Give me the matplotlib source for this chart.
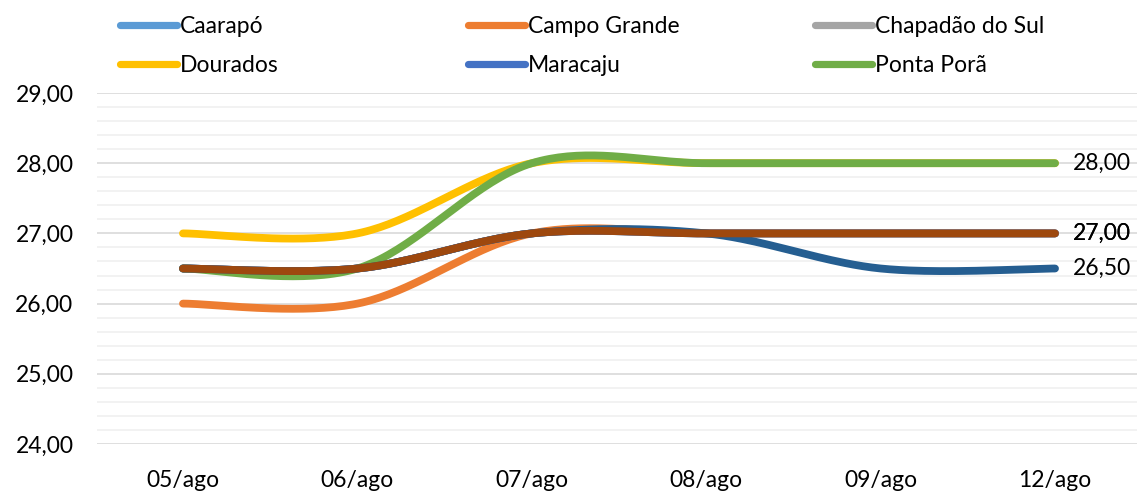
import matplotlib.pyplot as plt
import numpy as np
from matplotlib.ticker import FuncFormatter, MultipleLocator

# data
dates = ["05/ago", "06/ago", "07/ago", "08/ago", "09/ago", "12/ago"]
caarapo = [26.5, 26.5, 27.0, 27.0, 27.0, 27.0]
campo_grande = [26.0, 26.0, 27.0, 27.0, 27.0, 27.0]
chapadao = [26.5, 26.5, 27.0, 27.0, 27.0, 27.0]
dourados = [27.0, 27.0, 28.0, 28.0, 28.0, 28.0]
maracaju = [26.5, 26.5, 27.0, 27.0, 27.0, 27.0]
ponta_pora = [26.5, 26.5, 28.0, 28.0, 28.0, 28.0]
serie7 = [26.5, 26.5, 27.0, 27.0, 26.5, 26.5]
serie8 = [26.5, 26.5, 27.0, 27.0, 27.0, 27.0]

series = [
    ("Caarapó", caarapo, "#5B9BD5", True, False),
    ("Campo Grande", campo_grande, "#ED7D31", True, True),
    ("Chapadão do Sul", chapadao, "#A5A5A5", True, False),
    ("Dourados", dourados, "#FFC000", True, False),
    ("Maracaju", maracaju, "#4472C4", True, False),
    ("Ponta Porã", ponta_pora, "#70AD47", True, True),
    ("", serie7, "#255E91", False, True),
    ("", serie8, "#9E480E", False, True),
]

plt.rcParams['font.family'] = ['Lato', 'DejaVu Sans']
FS = 16.5


def smooth(xs, ys, n=40):
    # excel-like smoothed line (bezier through the points)
    pts = np.column_stack([xs, ys]).astype(float)
    ext = np.vstack([pts[0], pts, pts[-1]])
    t = np.linspace(0, 1, n)[:, None]
    out = []
    for i in range(len(pts) - 1):
        p0, p1, p2, p3 = ext[i], ext[i + 1], ext[i + 2], ext[i + 3]
        c1 = p1 + (p2 - p0) / 6
        c2 = p2 - (p3 - p1) / 6
        seg = (1 - t)**3 * p1 + 3 * (1 - t)**2 * t * c1 + 3 * (1 - t) * t**2 * c2 + t**3 * p2
        out.append(seg)
    cur = np.vstack(out)
    return cur[:, 0], cur[:, 1]


fig = plt.figure(figsize=(11.37, 4.92), dpi=100)
ax = fig.add_axes([97 / 1137, 48 / 492, 1040 / 1137, 351 / 492])

x = np.arange(len(dates))
handles = []
for name, vals, col, in_leg, lab in series:
    sx, sy = smooth(x, vals)
    ax.plot(sx, sy, color=col, lw=5.6, solid_capstyle='round', clip_on=False)
    if in_leg:
        handles.append((plt.Line2D([], [], color=col, lw=5.2, solid_capstyle='round'), name))
    if lab:
        ax.annotate(f"{vals[-1]:.2f}".replace(".", ","), (x[-1], vals[-1]),
                    xytext=(13, 0), textcoords='offset points', va='center', ha='left',
                    fontsize=FS, annotation_clip=False)

ax.set_xlim(-0.493, 5.47)
ax.set_ylim(24, 29)
ax.set_xticks(x)
ax.set_xticklabels(dates)
ax.yaxis.set_major_locator(MultipleLocator(1))
ax.yaxis.set_minor_locator(MultipleLocator(0.2))
ax.yaxis.set_major_formatter(FuncFormatter(lambda v, p: f"{v:.2f}".replace(".", ",")))
ax.grid(axis='y', which='major', color='#D9D9D9', lw=1.2)
ax.grid(axis='y', which='minor', color='#F0F0F0', lw=1.2)
ax.set_axisbelow(True)
for s in ax.spines.values():
    s.set_visible(False)
ax.tick_params(axis='both', which='both', length=0, labelsize=FS)
ax.tick_params(axis='y', pad=17)
ax.tick_params(axis='x', pad=19)

# legend laid out in three evenly spaced columns like excel
col_x = [120, 468, 815]
for k in range(3):
    hs = handles[k::3]
    fig.legend([h for h, _ in hs], [n for _, n in hs], loc='upper left',
               bbox_to_anchor=(col_x[k] / 1137, 1 - 16 / 492), frameon=False,
               fontsize=FS, handlelength=2.5, handletextpad=0.1,
               borderpad=0, borderaxespad=0, labelspacing=0.8)

fig.savefig("out.png", dpi=100)
